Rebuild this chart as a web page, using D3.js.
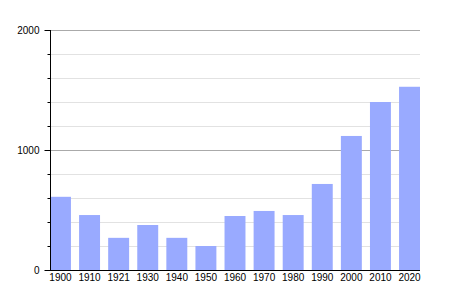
<!DOCTYPE html>
<html><head><meta charset="utf-8">
<script src="https://cdn.jsdelivr.net/npm/d3@7"></script>
<style>body{margin:0;background:#fff}text{font-family:"Liberation Sans",Arial,sans-serif}</style>
</head><body>
<svg id="c" width="450" height="300"></svg>
<script>
const years = ["1900","1910","1921","1930","1940","1950","1960","1970","1980","1990","2000","2010","2020"];
const population = [610,458,268,375,268,200,450,492,458,717,1117,1400,1527];
const majorTicks = [0,1000,2000];
const minorTicks = [200,400,600,800,1200,1400,1600,1800];

const svg = d3.select("#c");
const x = d3.scaleBand().domain(years).range([50,420]).paddingInner(0.28).paddingOuter(0);
const y = d3.scaleLinear().domain([0,2000]).range([270,30]);

// minor gridlines
svg.append("g").selectAll("line").data(minorTicks).join("line")
  .attr("x1",50).attr("x2",420).attr("y1",d=>y(d)+0.5).attr("y2",d=>y(d)+0.5)
  .attr("stroke","#e2e2e2").attr("stroke-width",1);
// major gridlines
svg.append("g").selectAll("line").data(majorTicks.filter(d=>d>0)).join("line")
  .attr("x1",50).attr("x2",420).attr("y1",d=>y(d)+0.5).attr("y2",d=>y(d)+0.5)
  .attr("stroke","#aaaaaa").attr("stroke-width",1);

// bars
svg.append("g").selectAll("rect").data(years).join("rect")
  .attr("x",d=>x(d)).attr("width",x.bandwidth())
  .attr("y",(d,i)=>y(population[i])).attr("height",(d,i)=>y(0)-y(population[i]))
  .attr("fill","#99aaff");

// y axis major
const yAxis = d3.axisLeft(y).tickValues(majorTicks).tickSize(6).tickPadding(5).tickFormat(d3.format("d"));
const ga = svg.append("g").attr("transform","translate(50.5,0)").call(yAxis);
ga.select(".domain").remove();
ga.selectAll("text").attr("font-size",10).attr("fill","#000").style("font-family","Liberation Sans, Arial, sans-serif");
// y minor ticks
const yMinor = d3.axisLeft(y).tickValues(minorTicks).tickSize(3).tickFormat("");
const gm = svg.append("g").attr("transform","translate(50.5,0)").call(yMinor);
gm.select(".domain").remove();
svg.append("line").attr("x1",50.5).attr("x2",50.5).attr("y1",y(2000)).attr("y2",y(0)+1).attr("stroke","#000");

// x axis
const xAxis = d3.axisBottom(x).tickSize(0).tickPadding(4);
const gx = svg.append("g").attr("transform","translate(0,270)").call(xAxis);
gx.select(".domain").remove();
gx.selectAll("text").attr("font-size",10).attr("fill","#000").style("font-family","Liberation Sans, Arial, sans-serif");
svg.append("line").attr("x1",50).attr("x2",420).attr("y1",270.5).attr("y2",270.5).attr("stroke","#000");
</script>
</body></html>
